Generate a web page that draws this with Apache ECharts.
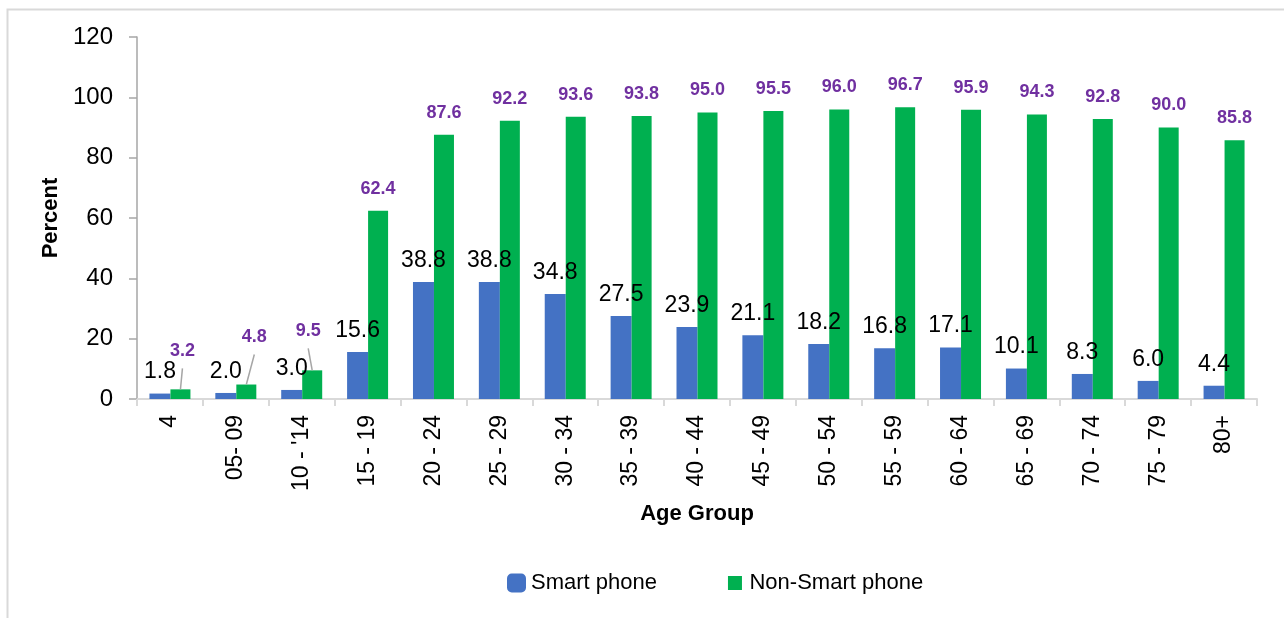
<!DOCTYPE html>
<html>
<head>
<meta charset="utf-8">
<script src="https://cdn.jsdelivr.net/npm/echarts@6/dist/echarts.min.js"></script>
<style>
  html, body { margin: 0; padding: 0; background: #fff; }
  #chart { width: 1284px; height: 618px; }
</style>
</head>
<body>
<div id="chart"></div>
<script>
// Age groups along the x axis
const ageGroups = ['4', '05- 09', "10 - '14", '15 - 19', '20 - 24', '25 - 29', '30 - 34', '35 - 39',
  '40 - 44', '45 - 49', '50 - 54', '55 - 59', '60 - 64', '65 - 69', '70 - 74', '75 - 79', '80+'];

// Share of each age group using a smart phone / a non-smart phone (%)
const smartPhone = [1.8, 2.0, 3.0, 15.6, 38.8, 38.8, 34.8, 27.5, 23.9, 21.1, 18.2, 16.8, 17.1, 10.1, 8.3, 6.0, 4.4];
const nonSmartPhone = [3.2, 4.8, 9.5, 62.4, 87.6, 92.2, 93.6, 93.8, 95.0, 95.5, 96.0, 96.7, 95.9, 94.3, 92.8, 90.0, 85.8];

// Value axis ticks
const yTicks = [0, 20, 40, 60, 80, 100, 120];

const SANS = '"Liberation Sans", Arial, sans-serif';

// bar widths (px) and the gap between a green bar and its label
const SMART_W = 21, NON_W = 20, NON_LABEL_DIST = 13;
// centre of the green bar relative to the category centre
const NON_OFFSET = -(SMART_W + NON_W) / 2 + SMART_W + NON_W / 2;

// small green labels are pulled up away from the short bars, with a leader line
const smallLabelShift = { 0: [2, -16], 1: [8, -25], 2: [-4, -17] };
const leaderIdx = Object.keys(smallLabelShift).map(Number);

const chart = echarts.init(document.getElementById('chart'), null, { renderer: 'canvas' });

chart.setOption({
  backgroundColor: '#ffffff',
  animation: false,
  graphic: [{
    type: 'rect',
    left: 5, top: 7,
    shape: { width: 1300, height: 640 },
    style: { fill: 'none', stroke: '#d9d9d9', lineWidth: 2 },
    silent: true, z: -1
  }],
  grid: { left: 137, right: 27, top: 37, bottom: 219, containLabel: false },
  legend: {
    left: 502, top: 566,
    itemWidth: 19, itemHeight: 19, itemGap: 66,
    textStyle: { fontFamily: SANS, fontSize: 22, color: '#000' },
    data: [
      { name: 'Smart phone', icon: 'roundRect' },
      { name: 'Non-Smart phone', icon: 'rect', itemStyle: { borderColor: '#ffffff', borderWidth: 5 } }
    ]
  },
  xAxis: {
    type: 'category',
    data: ageGroups,
    name: 'Age Group',
    nameLocation: 'middle',
    nameGap: 104,
    nameTextStyle: { fontFamily: SANS, fontWeight: 'bold', fontSize: 22, color: '#000' },
    axisLine: { lineStyle: { color: '#d9d9d9', width: 2 } },
    axisTick: { show: true, length: 7, lineStyle: { color: '#d9d9d9', width: 2 } },
    axisLabel: { rotate: 90, margin: 16, fontFamily: SANS, fontSize: 23, color: '#000' }
  },
  yAxis: {
    type: 'value',
    min: yTicks[0], max: yTicks[yTicks.length - 1], interval: yTicks[1] - yTicks[0],
    name: 'Percent',
    nameLocation: 'middle',
    nameGap: 62,
    nameTextStyle: { fontFamily: SANS, fontWeight: 'bold', fontSize: 22, color: '#000' },
    axisLine: { show: true, lineStyle: { color: '#a6a6a6', width: 1.5 } },
    axisTick: { show: true, length: 8, lineStyle: { color: '#a6a6a6', width: 1.5 } },
    axisLabel: { margin: 24, fontFamily: SANS, fontSize: 24, color: '#000' },
    splitLine: { show: false }
  },
  series: [
    {
      name: 'Smart phone',
      type: 'bar',
      data: smartPhone,
      barWidth: SMART_W,
      barGap: '0%',
      itemStyle: { color: '#4472C4' },
      label: {
        show: true, position: 'top', distance: 10,
        fontFamily: SANS, fontSize: 23, color: '#000',
        formatter: p => p.value.toFixed(1)
      }
    },
    {
      name: 'Non-Smart phone',
      type: 'bar',
      data: nonSmartPhone,
      barWidth: NON_W,
      itemStyle: { color: '#00B050' },
      label: {
        show: true, position: 'top', distance: NON_LABEL_DIST,
        fontFamily: SANS, fontWeight: 'bold', fontSize: 18, color: '#7030A0',
        formatter: p => p.value.toFixed(1)
      },
      labelLayout: function (params) {
        const s = smallLabelShift[params.dataIndex];
        return s ? { dx: s[0], dy: s[1] } : {};
      }
    },
    {
      // leader lines joining the moved labels to their short green bars
      type: 'custom',
      silent: true,
      z: 3,
      data: leaderIdx.map(i => [i, nonSmartPhone[i]]),
      encode: { x: 0, y: 1 },
      renderItem: function (params, api) {
        const i = api.value(0);
        const top = api.coord([i, api.value(1)]);
        const s = smallLabelShift[i];
        const x0 = top[0] + NON_OFFSET, y0 = top[1];
        const x1 = x0 + s[0], y1 = y0 - NON_LABEL_DIST + s[1] + 8;
        return {
          type: 'line',
          shape: { x1: x0, y1: y0, x2: x1, y2: y1 },
          style: { stroke: '#a6a6a6', lineWidth: 1.5 }
        };
      }
    }
  ]
});
</script>
</body>
</html>
